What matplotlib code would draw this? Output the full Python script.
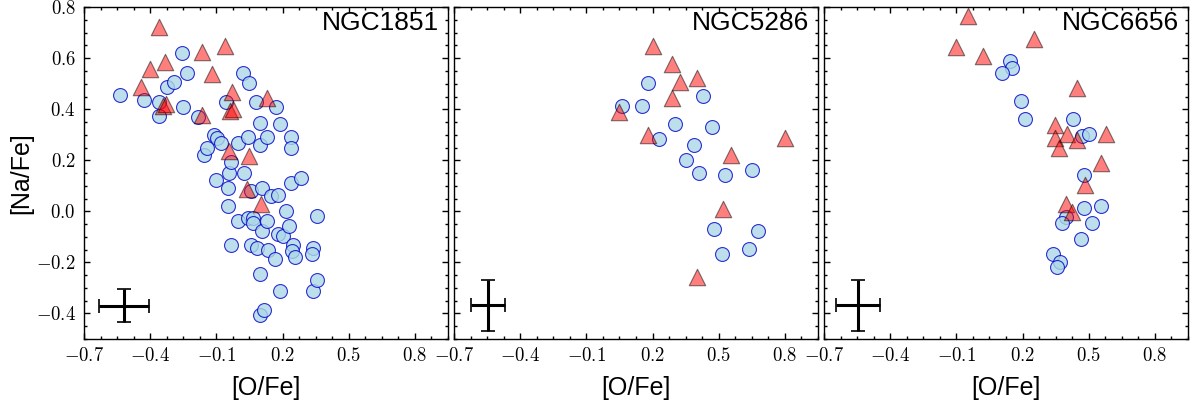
import numpy as np
import matplotlib
matplotlib.use('Agg')
import matplotlib.pyplot as plt
from matplotlib.ticker import FixedLocator, MultipleLocator, AutoMinorLocator, FuncFormatter

plt.rcParams['font.family'] = ['Liberation Sans', 'DejaVu Sans']
plt.rcParams['mathtext.fontset'] = 'cm'

# cluster names
clusters = ['NGC1851', 'NGC5286', 'NGC6656']

# first group (circles): [O/Fe], [Na/Fe]
circ_o = [
    [-0.539, -0.430, -0.358, -0.358, -0.322, -0.294, -0.257, -0.231, -0.249, -0.181,
     -0.158, -0.143, -0.109, -0.098, -0.078, -0.101, -0.057, -0.041, -0.048, -0.033,
     -0.048, -0.033, 0.000, -0.003, 0.020, 0.050, 0.042, 0.027, 0.057, 0.045,
     0.068, 0.065, 0.057, 0.083, 0.080, 0.100, 0.098, 0.131, 0.106, 0.108,
     0.131, 0.136, 0.146, 0.181, 0.171, 0.189, 0.166, 0.181, 0.201, 0.216,
     0.231, 0.238, 0.238, 0.238, 0.282, 0.249, 0.241, 0.257, 0.098, 0.098,
     0.118, 0.189, 0.340, 0.332, 0.340, 0.355, 0.355],
    [0.181, 0.063, 0.154, 0.231, 0.302, 0.430, 0.471, 0.389, 0.353, 0.412,
     0.528, 0.652, 0.480, 0.679, 0.513, 0.637],
    [0.143, 0.152, 0.107, 0.191, 0.210, 0.428, 0.470, 0.500, 0.480, 0.480,
     0.557, 0.395, 0.380, 0.515, 0.466, 0.340, 0.370, 0.355],
]
circ_na = [
    [0.456, 0.436, 0.430, 0.375, 0.489, 0.508, 0.619, 0.541, 0.410, 0.371,
     0.221, 0.248, 0.300, 0.287, 0.267, 0.124, 0.430, 0.150, 0.091, 0.195,
     0.020, -0.130, 0.267, -0.039, 0.541, 0.502, 0.293, 0.150, 0.078, -0.026,
     -0.026, -0.046, -0.130, -0.143, 0.430, 0.345, 0.261, 0.293, 0.091, -0.078,
     -0.036, -0.150, 0.061, 0.065, 0.410, 0.341, -0.186, -0.089, -0.098, 0.003,
     -0.059, 0.293, 0.250, 0.111, 0.130, -0.130, -0.156, -0.180, -0.245, -0.407,
     -0.387, -0.310, -0.143, -0.167, -0.313, -0.267, -0.020],
    [0.503, 0.411, 0.411, 0.283, 0.342, 0.453, 0.329, 0.260, 0.200, 0.150,
     0.141, 0.161, -0.069, -0.078, -0.167, -0.148],
    [0.590, 0.561, 0.542, 0.431, 0.363, 0.363, 0.294, 0.303, 0.141, 0.013,
     0.020, -0.022, -0.046, -0.046, -0.107, -0.167, -0.198, -0.218],
]

# second group (triangles)
tri_o = [
    [-0.359, -0.331, -0.400, -0.442, -0.340, -0.330, -0.166, -0.166, -0.118, -0.060,
     -0.030, -0.038, -0.023, -0.042, 0.050, 0.038, 0.103, 0.131],
    [0.204, 0.290, 0.325, 0.402, 0.290, 0.050, 0.181, 0.554, 0.800, 0.521, 0.400],
    [-0.045, -0.100, 0.020, 0.250, 0.445, 0.347, 0.347, 0.403, 0.448, 0.365,
     0.578, 0.556, 0.481, 0.395, 0.425],
]
tri_na = [
    [0.724, 0.586, 0.559, 0.487, 0.414, 0.420, 0.378, 0.624, 0.539, 0.649,
     0.469, 0.393, 0.400, 0.237, 0.218, 0.086, 0.030, 0.446],
    [0.648, 0.577, 0.507, 0.524, 0.446, 0.389, 0.299, 0.219, 0.289, 0.010, -0.257],
    [0.764, 0.646, 0.607, 0.676, 0.484, 0.339, 0.286, 0.302, 0.278, 0.248,
     0.305, 0.191, 0.104, 0.030, -0.001],
]

# typical error bars
err_x = [-0.518, -0.546, -0.546]
err_y = [-0.37, -0.368, -0.368]
err_o = [0.114, 0.078, 0.10]
err_na = [0.065, 0.099, 0.099]

xticks = [-0.7, -0.4, -0.1, 0.2, 0.5, 0.8]


def fmt(v, pos):
    if abs(v) < 1e-9:
        v = 0.0
    return r'$%.1f$' % v


fig, axes = plt.subplots(1, 3, figsize=(12, 4), dpi=100, sharey=True)
fig.subplots_adjust(left=0.07, right=0.99, bottom=0.1525, top=0.982, wspace=0.0165)

for i, ax in enumerate(axes):
    ax.scatter(circ_o[i], circ_na[i], s=100, c='lightblue', edgecolors='mediumblue',
               linewidths=0.8, alpha=0.8, zorder=2)
    ax.scatter(tri_o[i], tri_na[i], s=140, marker='^', c='red', edgecolors='k',
               linewidths=0.8, alpha=0.5, zorder=3)
    ax.errorbar(err_x[i], err_y[i], xerr=err_o[i], yerr=err_na[i], fmt='none',
                ecolor='k', elinewidth=2.2, capsize=4.7, capthick=1.2, zorder=4)
    ax.text(0.975, 0.99, clusters[i], transform=ax.transAxes, ha='right', va='top',
            fontsize=19)

    ax.set_xlim(-0.7, 0.95)
    ax.set_ylim(-0.5, 0.8)
    ax.xaxis.set_major_locator(FixedLocator(xticks))
    ax.xaxis.set_minor_locator(AutoMinorLocator(4))
    ax.yaxis.set_major_locator(MultipleLocator(0.2))
    ax.yaxis.set_minor_locator(AutoMinorLocator(4))
    ax.xaxis.set_major_formatter(FuncFormatter(fmt))
    ax.yaxis.set_major_formatter(FuncFormatter(fmt))
    ax.tick_params(which='both', direction='in', top=True, right=True, width=1,
                   labelsize=13.5, pad=6)
    ax.tick_params(which='major', length=4.3)
    ax.tick_params(which='minor', length=2.2)
    for sp in ax.spines.values():
        sp.set_linewidth(1.0)
    ax.set_xlabel('[O/Fe]', fontsize=18, labelpad=8)
    if i > 0:
        ax.tick_params(labelleft=False)

axes[0].set_ylabel('[Na/Fe]', fontsize=18, labelpad=2)

plt.savefig('out.png', dpi=100)
